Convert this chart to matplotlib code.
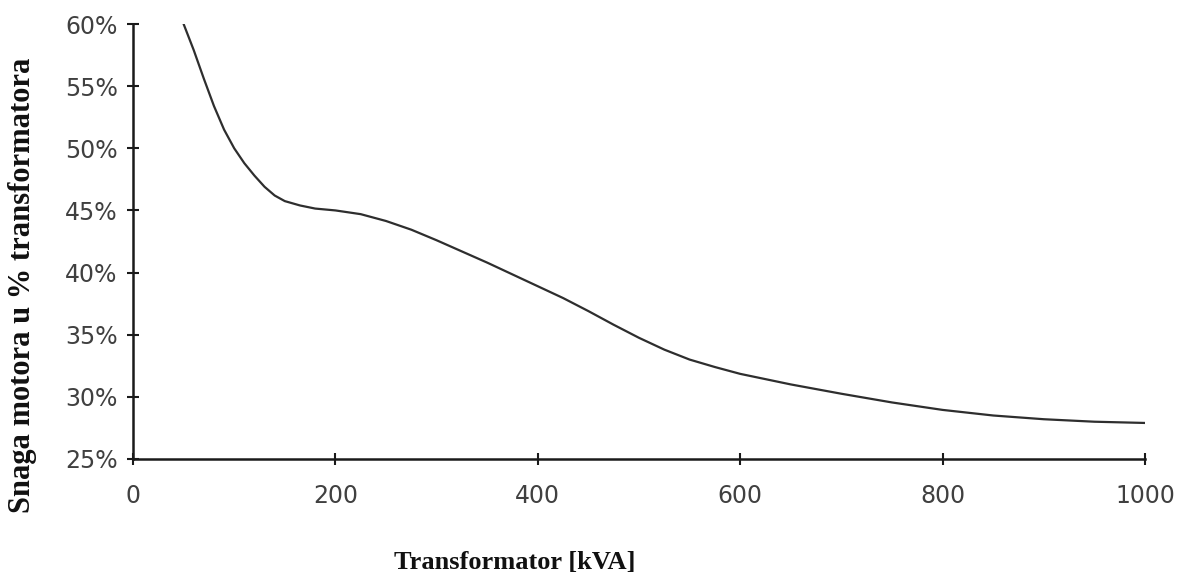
import matplotlib
matplotlib.use("Agg")
import matplotlib.pyplot as plt
from matplotlib.ticker import FuncFormatter

# Data
kva = [50, 60, 70, 80, 90, 100, 110, 120, 130, 140, 150, 165, 180, 200, 225,
       250, 275, 300, 325, 350, 375, 400, 425, 450, 475, 500, 525, 550, 575,
       600, 650, 700, 750, 800, 850, 900, 950, 1000]
share = [60.0, 57.9, 55.6, 53.4, 51.5, 50.0, 48.8, 47.8, 46.9, 46.2, 45.75,
         45.4, 45.15, 45.0, 44.7, 44.15, 43.45, 42.6, 41.7, 40.8, 39.85, 38.9,
         37.95, 36.9, 35.8, 34.75, 33.8, 33.0, 32.4, 31.85, 31.0, 30.25, 29.55,
         28.95, 28.5, 28.2, 28.0, 27.9]
x_ticks = [0, 200, 400, 600, 800, 1000]
y_ticks = [25, 30, 35, 40, 45, 50, 55, 60]
x_label = "Transformator [kVA]"
y_label = "Snaga motora u % transformatora"

W, H = 1181, 579
fig = plt.figure(figsize=(W / 100, H / 100), dpi=100)
ax = fig.add_axes([133 / W, 1 - 459 / H, (1145 - 133) / W, (459 - 24) / H])

ax.plot(kva, share, color="#2e2e2e", lw=1.6, solid_capstyle="round",
        solid_joinstyle="round")

ax.set_xlim(0, 1000)
ax.set_ylim(25, 60)
ax.set_xticks(x_ticks)
ax.set_yticks(y_ticks)
ax.yaxis.set_major_formatter(FuncFormatter(lambda v, p: f"{v:.0f}%"))

for s in ["top", "right"]:
    ax.spines[s].set_visible(False)
for s in ["left", "bottom"]:
    ax.spines[s].set_linewidth(1.8)
    ax.spines[s].set_color("#1a1a1a")
    ax.spines[s].set_clip_on(False)

ax.tick_params(axis="both", direction="inout", length=8, width=1.5,
               color="#1a1a1a", labelcolor="#404040", labelsize=17)
ax.tick_params(axis="x", pad=14)
ax.tick_params(axis="y", pad=7)
for lab in ax.get_xticklabels() + ax.get_yticklabels():
    lab.set_fontfamily("DejaVu Sans")

fig.text(515 / W, 1 - 563 / H, x_label, ha="center", va="center",
         fontsize=19, fontweight="bold", family="Liberation Serif", color="#111111")
fig.text(23 / W, 1 - 285 / H, y_label, ha="center", va="center", rotation=90,
         fontsize=22, fontweight="bold", family="Liberation Serif", color="#111111")

fig.savefig("out.png", dpi=100)
